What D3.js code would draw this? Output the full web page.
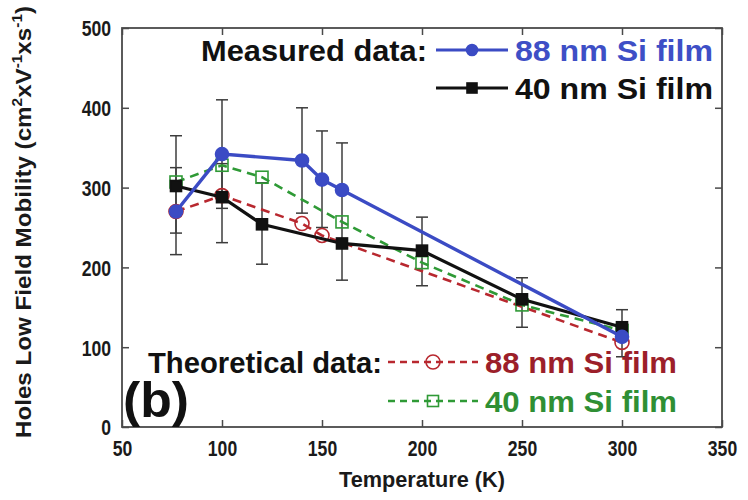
<!DOCTYPE html>
<html>
<head>
<meta charset="utf-8">
<script src="https://cdn.jsdelivr.net/npm/d3@7"></script>
<style>
	body { margin: 0; background: #fff; }
	svg text { font-family: "Liberation Sans", Arial, sans-serif; font-weight: bold; }
</style>
</head>
<body>
<svg id="chart" width="748" height="500"></svg>
<script>
// measured data
var measured88T = [77, 100, 140, 150, 160, 300];
var measured88  = [270, 342, 334, 310, 297, 113];
var measured40T = [77, 100, 120, 160, 200, 250, 300];
var measured40  = [302, 288, 254, 230, 221, 160, 125];
// theoretical data
var theory88T = [77, 100, 140, 150, 300];
var theory88  = [270, 290, 255, 240, 106];
var theory40T = [77, 100, 120, 160, 200, 250, 300];
var theory40  = [307, 328, 313, 257, 206, 153, 121];
// error bars
var errT    = [77, 77, 100, 100, 120, 140, 150, 160, 200, 250, 300];
var errLow  = [216, 243, 231, 274, 204, 268, 250, 184, 177, 125, 88];
var errHigh = [365, 325, 410, 330, 306, 400, 371, 356, 263, 187, 147];

var xTicks = [50, 100, 150, 200, 250, 300, 350];
var yTicks = [0, 100, 200, 300, 400, 500];

var margin = {top: 28, right: 26, bottom: 73, left: 122};
var W = 748, H = 500;
var w = W - margin.left - margin.right,
	h = H - margin.top - margin.bottom;

var svg = d3.select("#chart");
var g = svg.append("g").attr("transform", "translate(" + margin.left + "," + margin.top + ")");

var x = d3.scaleLinear().domain([50, 350]).range([0, w]);
var y = d3.scaleLinear().domain([0, 500]).range([h, 0]);

var axisColor = "#4a4a4a";

//	squeeze text horizontally, the original figure uses a narrow face
function condense(sel, k) {
	sel.each(function(){
		var len = this.getComputedTextLength();
		d3.select(this).attr("textLength", len * k).attr("lengthAdjust", "spacingAndGlyphs");
	});
}

//	axes, ticks pointing inward on all four sides
var bottom = g.append("g").attr("transform", "translate(0," + h + ")")
	.call(d3.axisBottom(x).tickValues(xTicks).tickSizeInner(-7).tickSizeOuter(0).tickPadding(13));
var top_ = g.append("g")
	.call(d3.axisTop(x).tickValues(xTicks).tickSizeInner(-7).tickSizeOuter(0).tickFormat(""));
var left = g.append("g")
	.call(d3.axisLeft(y).tickValues(yTicks).tickSizeInner(-7).tickSizeOuter(0).tickPadding(11));
var right = g.append("g").attr("transform", "translate(" + w + ",0)")
	.call(d3.axisRight(y).tickValues(yTicks).tickSizeInner(-7).tickSizeOuter(0).tickFormat(""));

[bottom, top_, left, right].forEach(function(a){
	a.select(".domain").remove();
	a.selectAll("line").attr("stroke", axisColor).attr("stroke-width", 1.5);
	a.selectAll("text").attr("fill", "#1a1a1a").style("font-size", "22px");
});
left.selectAll("text").attr("dy", "0.36em");
condense(bottom.selectAll("text"), 0.8);
condense(left.selectAll("text"), 0.8);

g.append("rect").attr("width", w).attr("height", h)
	.attr("fill", "none").attr("stroke", axisColor).attr("stroke-width", 1.8);

//	error bars
var capW = 6;
var eb = g.append("g").attr("stroke", "#3c3c3c").attr("stroke-width", 1.5);
errT.forEach(function(t, i){
	var cx = x(t);
	eb.append("line").attr("x1", cx).attr("x2", cx).attr("y1", y(errLow[i])).attr("y2", y(errHigh[i]));
	eb.append("line").attr("x1", cx - capW).attr("x2", cx + capW).attr("y1", y(errLow[i])).attr("y2", y(errLow[i]));
	eb.append("line").attr("x1", cx - capW).attr("x2", cx + capW).attr("y1", y(errHigh[i])).attr("y2", y(errHigh[i]));
});

var line = d3.line().x(function(d){ return x(d[0]); }).y(function(d){ return y(d[1]); });
function pairs(ts, vs){ return ts.map(function(t, i){ return [t, vs[i]]; }); }

var blue = "#3b4bc4", red = "#b8282f", green = "#2f9a36", black = "#111";

var series = [
	{data: pairs(theory88T, theory88), color: red, width: 2.6, dash: "9,6", marker: "circle", fill: "none"},
	{data: pairs(theory40T, theory40), color: green, width: 2.6, dash: "9,6", marker: "square", fill: "none"},
	{data: pairs(measured40T, measured40), color: black, width: 3.2, dash: null, marker: "square", fill: black},
	{data: pairs(measured88T, measured88), color: blue, width: 3.4, dash: null, marker: "circle", fill: blue}
];

function drawMarker(sel, kind, cx, cy, color, fill, size){
	if(kind == "circle") {
		sel.append("circle").attr("cx", cx).attr("cy", cy).attr("r", size)
			.attr("fill", fill == "none" ? "none" : fill).attr("stroke", color).attr("stroke-width", 1.6);
	}else{
		sel.append("rect").attr("x", cx - size).attr("y", cy - size).attr("width", size*2).attr("height", size*2)
			.attr("fill", fill == "none" ? "none" : fill).attr("stroke", color).attr("stroke-width", 1.6);
	}
}

series.forEach(function(s){
	g.append("path").datum(s.data).attr("d", line)
		.attr("fill", "none").attr("stroke", s.color).attr("stroke-width", s.width)
		.attr("stroke-dasharray", s.dash);
	var mg = g.append("g");
	s.data.forEach(function(d){
		var size = s.marker == "circle" ? (s.fill == "none" ? 7 : 6.5) : (s.fill == "none" ? 6 : 5.5);
		drawMarker(mg, s.marker, x(d[0]), y(d[1]), s.color, s.fill, size);
	});
});

//	legends
var lg = svg.append("g");
function legendRow(label, labelLen, labelX, lx1, lx2, ly, color, dash, marker, fill, txt, txtColor, txtLen){
	if(label) {
		lg.append("text").attr("x", labelX).attr("y", ly + 11).attr("text-anchor", "end")
			.attr("fill", "#111").style("font-size", "30px").text(label)
			.attr("textLength", labelLen).attr("lengthAdjust", "spacingAndGlyphs");
	}
	lg.append("line").attr("x1", lx1).attr("x2", lx2).attr("y1", ly).attr("y2", ly)
		.attr("stroke", color).attr("stroke-width", dash ? 2.4 : 3).attr("stroke-dasharray", dash);
	var mx = (lx1 + lx2)/2;
	drawMarker(lg, marker, mx, ly, color, fill, marker == "circle" ? (fill == "none" ? 7 : 5.5) : (fill == "none" ? 5.5 : 5));
	lg.append("text").attr("x", lx2 + 7).attr("y", ly + 11).attr("fill", txtColor)
		.style("font-size", "30px").text(txt)
		.attr("textLength", txtLen).attr("lengthAdjust", "spacingAndGlyphs");
}
legendRow("Measured data:", 226, 427, 436, 508, 50, blue, null, "circle", blue, "88 nm Si film", "#3e4fc6", 198);
legendRow(null, 0, 0, 436, 508, 88, black, null, "square", black, "40 nm Si film", "#111", 198);
legendRow("Theoretical data:", 234, 382, 388, 478, 362, red, "7,5", "circle", "none", "88 nm Si film", "#9c1f2a", 192);
legendRow(null, 0, 0, 388, 478, 401, green, "7,5", "square", "none", "40 nm Si film", "#2f8f34", 192);

//	panel label
svg.append("text").attr("x", 123).attr("y", 417).attr("fill", "#111")
	.style("font-size", "50px").text("(b)")
	.attr("textLength", 66).attr("lengthAdjust", "spacingAndGlyphs");

//	axis titles
svg.append("text").attr("x", margin.left + w/2).attr("y", 487).attr("text-anchor", "middle")
	.attr("fill", "#1a1a1a").style("font-size", "22px").text("Temperature (K)")
	.attr("textLength", 166).attr("lengthAdjust", "spacingAndGlyphs");

var yt = svg.append("text").attr("transform", "translate(31," + 222 + ") rotate(-90)")
	.attr("text-anchor", "middle").attr("fill", "#1a1a1a").style("font-size", "22px")
	.attr("textLength", 432).attr("lengthAdjust", "spacingAndGlyphs");
yt.append("tspan").text("Holes Low Field Mobility (cm");
yt.append("tspan").attr("dy", -9).style("font-size", "14px").text("2");
yt.append("tspan").attr("dy", 9).text("xV");
yt.append("tspan").attr("dy", -9).style("font-size", "14px").text("-1");
yt.append("tspan").attr("dy", 9).text("xs");
yt.append("tspan").attr("dy", -9).style("font-size", "14px").text("-1");
yt.append("tspan").attr("dy", 9).text(")");
</script>
</body>
</html>
